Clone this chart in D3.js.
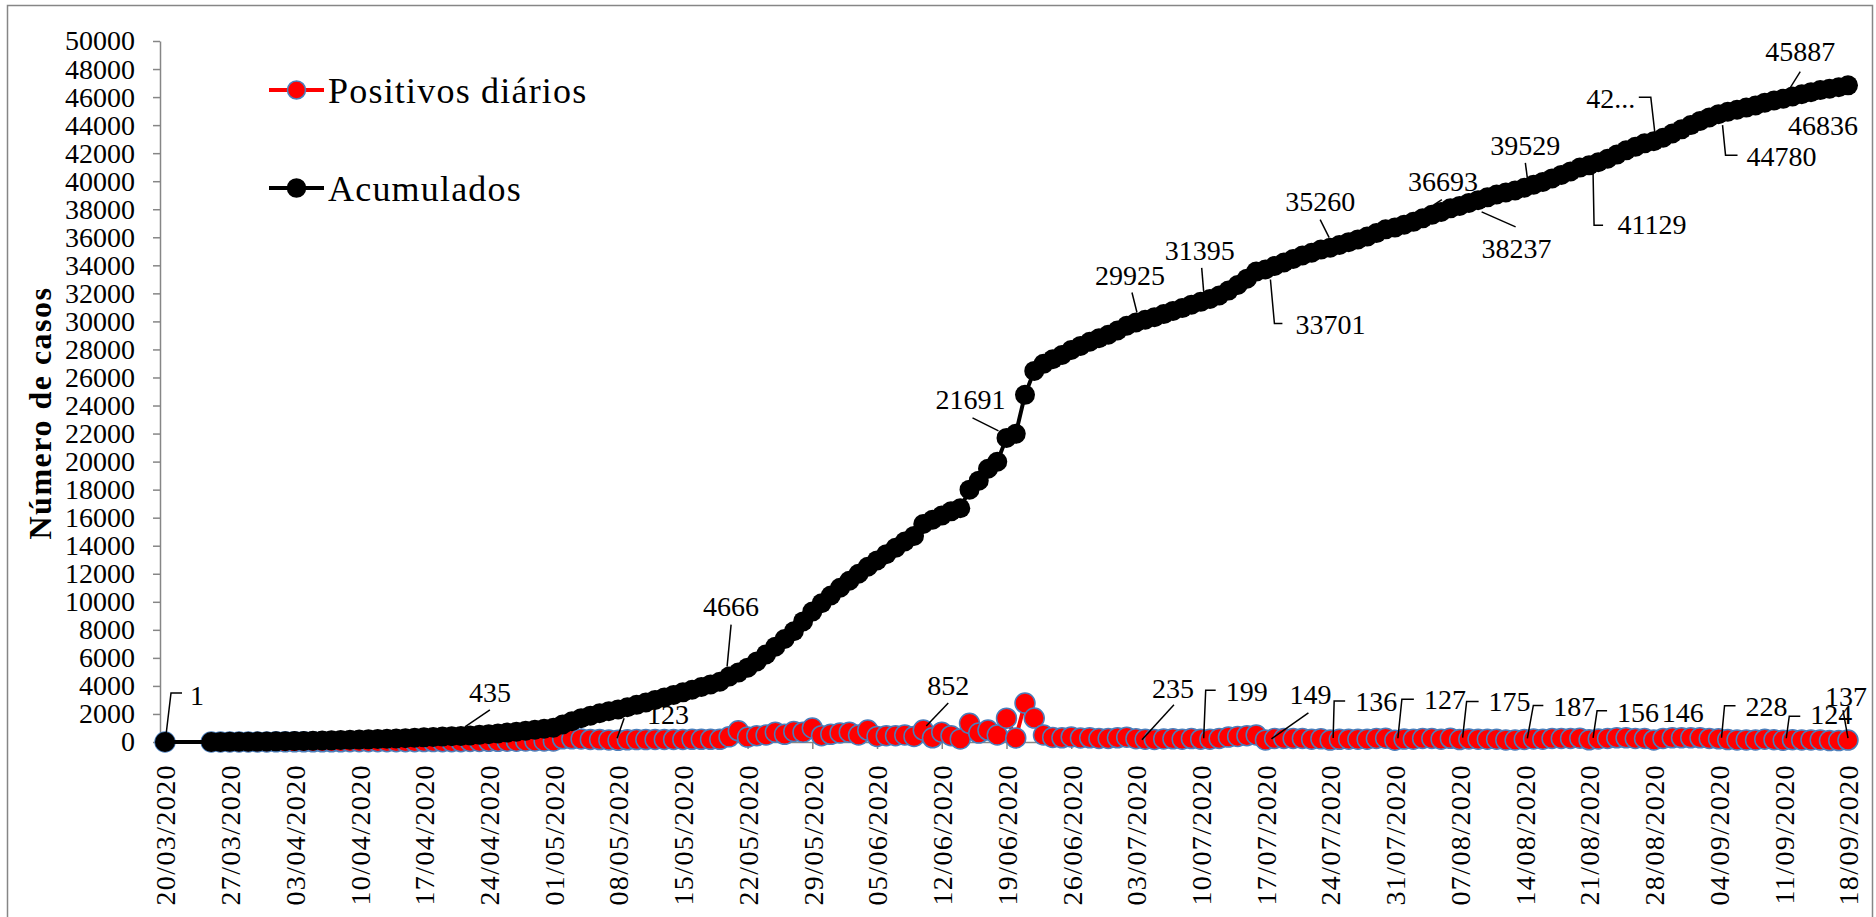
<!DOCTYPE html>
<html>
<head>
<meta charset="utf-8">
<script src="https://cdn.jsdelivr.net/npm/d3@7/dist/d3.min.js"></script>
<style>
  body { margin: 0; background: #fff; }
  text { font-family: "Liberation Serif", "Times New Roman", serif; fill: #000; }
</style>
</head>
<body>
<div id="chart"></div>
<script>
var svgWidth = 1876;
var svgHeight = 917;

// Data
var firstDate = "20/03/2020";
var seriesStart = "25/03/2020";
var lastDate = "18/09/2020";

var tickLabels = ["20/03/2020", "27/03/2020", "03/04/2020", "10/04/2020", "17/04/2020", "24/04/2020",
  "01/05/2020", "08/05/2020", "15/05/2020", "22/05/2020", "29/05/2020", "05/06/2020", "12/06/2020",
  "19/06/2020", "26/06/2020", "03/07/2020", "10/07/2020", "17/07/2020", "24/07/2020", "31/07/2020",
  "07/08/2020", "14/08/2020", "21/08/2020", "28/08/2020", "04/09/2020", "11/09/2020", "18/09/2020"];

var yTicks = [0, 2000, 4000, 6000, 8000, 10000, 12000, 14000, 16000, 18000, 20000, 22000, 24000, 26000,
  28000, 30000, 32000, 34000, 36000, 38000, 40000, 42000, 44000, 46000, 48000, 50000];

// one value for 20/03, then one per day from 25/03 to 18/09
var acumulados = [1,
  3, 6, 10,
  15, 21, 28, 36, 45, 55, 66,
  78, 91, 105, 120, 136, 153, 171,
  190, 210, 231, 253, 276, 300, 330,
  360, 385, 410, 435, 470, 510, 560,
  610, 670, 730, 800, 870, 945, 1020,
  1250, 1480, 1700, 1880, 2050, 2200, 2323,
  2480, 2650, 2820, 3000, 3180, 3360, 3540,
  3730, 3920, 4110, 4300, 4666, 4950, 5300,
  5750, 6250, 6800, 7350, 7900, 8600, 9300,
  9900, 10450, 11000, 11500, 12000, 12500, 12950,
  13400, 13850, 14300, 14700, 15552, 15850, 16150,
  16450, 16671, 18001, 18641, 19491, 19991, 21691,
  21981, 24761, 26471, 26971, 27300, 27600, 27960,
  28250, 28550, 28800, 29050, 29350, 29690, 29925,
  30120, 30300, 30520, 30750, 30950, 31196, 31395,
  31600, 31850, 32200, 32600, 33050, 33552, 33701,
  33950, 34200, 34450, 34700, 34900, 35124, 35260,
  35450, 35650, 35850, 36050, 36300, 36566, 36693,
  36900, 37100, 37350, 37600, 37800, 38062, 38237,
  38450, 38650, 38850, 39050, 39200, 39342, 39529,
  39750, 39950, 40200, 40450, 40700, 40973, 41129,
  41350, 41600, 41900, 42200, 42450, 42700, 42846,
  43100, 43400, 43700, 44000, 44300, 44552, 44780,
  44950, 45100, 45250, 45400, 45600, 45763, 45887,
  46050, 46200, 46350, 46500, 46600, 46699, 46836];

var positivos = [1,
  2, 3, 4,
  5, 6, 7, 8, 9, 10, 11,
  12, 13, 14, 15, 16, 17, 18,
  19, 20, 21, 22, 23, 24, 30,
  30, 25, 25, 25, 35, 40, 50,
  50, 60, 60, 70, 70, 75, 75,
  230, 230, 220, 180, 170, 150, 123,
  157, 170, 170, 180, 180, 180, 180,
  190, 190, 190, 190, 366, 800, 350,
  450, 500, 700, 550, 750, 700, 1000,
  450, 550, 650, 700, 500, 850, 400,
  450, 450, 500, 400, 852, 298, 700,
  450, 221, 1330, 640, 850, 500, 1700,
  290, 2780, 1710, 500, 329, 300, 360,
  290, 300, 250, 250, 300, 340, 235,
  195, 180, 220, 230, 200, 246, 199,
  205, 250, 350, 400, 450, 502, 149,
  249, 250, 250, 250, 200, 224, 136,
  190, 200, 200, 200, 250, 266, 127,
  207, 200, 250, 250, 200, 262, 175,
  213, 200, 200, 200, 150, 142, 187,
  221, 200, 250, 250, 250, 273, 156,
  221, 250, 300, 300, 250, 250, 146,
  254, 300, 300, 300, 300, 252, 228,
  170, 150, 150, 150, 200, 163, 124,
  163, 150, 150, 150, 100, 99, 137];

// data labels: which date, label offset from the point, leader line (relative to the point)
var acumLabels = [
  { date: "20/03/2020", text: "1", dx: 32, dy: -47, leader: [[1, -7], [6, -49], [17, -49]] },
  { date: "21/04/2020", text: "435", dx: 29, dy: -44, leader: [[4, -9], [29, -26]] },
  { date: "20/05/2020", text: "4666", dx: 2, dy: -70, leader: [[-2, -10], [2, -52]] },
  { date: "19/06/2020", text: "21691", dx: -36, dy: -39, leader: [[-34, -20], [-8, -7]] },
  { date: "03/07/2020", text: "29925", dx: -6, dy: -47, leader: [[-4, -30], [1, -10]] },
  { date: "10/07/2020", text: "31395", dx: -1, dy: -52, leader: [[1, -34], [3, -10]] },
  { date: "17/07/2020", text: "33701", dx: 65, dy: 55, leader: [[5, 10], [9, 54], [17, 54]] },
  { date: "24/07/2020", text: "35260", dx: -10, dy: -46, leader: [[-10, -28], [-1, -10]] },
  { date: "31/07/2020", text: "36693", dx: 48, dy: -46, leader: [[47, -28], [24, -13]] },
  { date: "07/08/2020", text: "38237", dx: 57, dy: 42, leader: [[22, 6], [56, 21]] },
  { date: "14/08/2020", text: "39529", dx: 1, dy: -43, leader: [[1, -25], [3, -10]] },
  { date: "21/08/2020", text: "41129", dx: 63, dy: 59, leader: [[4, 8], [5, 60], [14, 60]] },
  { date: "28/08/2020", text: "42...", dx: -43, dy: -43, leader: [[-15, -44], [-3, -44], [1, -9]] },
  { date: "04/09/2020", text: "44780", dx: 63, dy: 42, leader: [[4, 11], [7, 41], [19, 41]] },
  { date: "11/09/2020", text: "45887", dx: 17, dy: -47, leader: [[17, -27], [7, -11]] },
  { date: "18/09/2020", text: "46836", dx: -25, dy: 40, leader: [] }
];

var positLabels = [
  { date: "08/05/2020", text: "123", dx: 50, dy: -26, leader: [[6, -22], [-1, -2]] },
  { date: "10/06/2020", text: "852", dx: 25, dy: -45, leader: [[25, -27], [3, -4]] },
  { date: "03/07/2020", text: "235", dx: 37, dy: -51, leader: [[38, -34], [6, 1]] },
  { date: "10/07/2020", text: "199", dx: 46, dy: -48, leader: [[15, -49], [5, -49], [3, -1]] },
  { date: "17/07/2020", text: "149", dx: 45, dy: -46, leader: [[43, -27], [6, -1]] },
  { date: "24/07/2020", text: "136", dx: 46, dy: -39, leader: [[15, -39], [4, -39], [3, -2]] },
  { date: "31/07/2020", text: "127", dx: 50, dy: -41, leader: [[19, -41], [7, -41], [3, -2]] },
  { date: "07/08/2020", text: "175", dx: 50, dy: -38, leader: [[19, -38], [7, -38], [3, -2]] },
  { date: "14/08/2020", text: "187", dx: 50, dy: -33, leader: [[19, -34], [9, -34], [3, -1]] },
  { date: "21/08/2020", text: "156", dx: 49, dy: -28, leader: [[18, -29], [8, -29], [4, -2]] },
  { date: "28/08/2020", text: "146", dx: 29, dy: -28, leader: [] },
  { date: "04/09/2020", text: "228", dx: 48, dy: -33, leader: [[17, -33], [6, -33], [3, -1]] },
  { date: "11/09/2020", text: "124", dx: 48, dy: -26, leader: [[17, -24], [6, -24], [3, -2]] },
  { date: "18/09/2020", text: "137", dx: -2, dy: -44, leader: [[-5, -30], [0, -2]] }
];

var margin = { top: 41, right: 23, bottom: 175, left: 160 };
var height = svgHeight - margin.top - margin.bottom;   // 0 sits at y = 742

var parseDate = d3.timeParse("%d/%m/%Y");
var dates = [parseDate(firstDate)].concat(
  d3.timeDay.range(parseDate(seriesStart), d3.timeDay.offset(parseDate(lastDate), 1)));

var svg = d3.select("#chart")
  .append("svg")
  .attr("width", svgWidth)
  .attr("height", svgHeight);

svg.append("rect")
  .attr("width", svgWidth)
  .attr("height", svgHeight)
  .attr("fill", "#fff");

// chart border
svg.append("rect")
  .attr("x", 7.5)
  .attr("y", 5.5)
  .attr("width", 1865)
  .attr("height", 940)
  .attr("fill", "none")
  .attr("stroke", "#868686")
  .attr("stroke-width", 1.5);

// Scales (half a day of padding on both ends)
var x = d3.scaleTime()
  .domain([d3.timeHour.offset(parseDate(firstDate), -13), d3.timeHour.offset(parseDate(lastDate), 13)])
  .range([margin.left, svgWidth - margin.right]);

var y = d3.scaleLinear()
  .domain([0, 50000])
  .range([margin.top + height, margin.top]);

// Axes
var leftAxis = d3.axisLeft(y)
  .tickValues(yTicks)
  .tickFormat(d3.format("d"))
  .tickSize(7).tickSizeOuter(0).tickPadding(18);
var bottomAxis = d3.axisBottom(x)
  .tickValues(tickLabels.map(parseDate))
  .tickFormat(function(d, i) { return tickLabels[i]; })
  .tickSize(7).tickSizeOuter(0);

var yAxisG = svg.append("g")
  .attr("transform", `translate(${margin.left}, 0)`)
  .call(leftAxis);
yAxisG.selectAll("text")
  .style("font-family", "Liberation Serif")
  .style("font-size", "28px");

var xAxisG = svg.append("g")
  .attr("transform", `translate(0, ${y(0)})`)
  .call(bottomAxis);
xAxisG.selectAll("text")
  .attr("transform", "rotate(-90)")
  .attr("text-anchor", "end")
  .attr("x", -22)
  .attr("y", 0)
  .attr("dy", "0.35em")
  .style("font-family", "Liberation Serif")
  .style("font-size", "28px")
  .style("letter-spacing", "1.4px");

svg.selectAll(".domain, .tick line")
  .attr("stroke", "#868686")
  .attr("stroke-width", 1.5);

// axis title
svg.append("text")
  .attr("transform", "translate(40, 413) rotate(-90)")
  .attr("text-anchor", "middle")
  .attr("dy", "0.35em")
  .style("font-size", "32px")
  .style("font-weight", "bold")
  .style("letter-spacing", "1.5px")
  .text("Número de casos");

var line = d3.line()
  .x(function(d, i) { return x(dates[i]); })
  .y(function(d) { return y(d); });

// Positivos diários
svg.append("path")
  .datum(positivos)
  .attr("d", line)
  .attr("fill", "none")
  .attr("stroke", "#ff0000")
  .attr("stroke-width", 4);

svg.append("g").selectAll("circle")
  .data(positivos)
  .enter()
  .append("circle")
  .attr("cx", function(d, i) { return x(dates[i]); })
  .attr("cy", function(d) { return y(d); })
  .attr("r", 10)
  .attr("fill", "#ff0000")
  .attr("stroke", "#4a7ebb")
  .attr("stroke-width", 1.5);

// Acumulados
svg.append("path")
  .datum(acumulados)
  .attr("d", line)
  .attr("fill", "none")
  .attr("stroke", "#000")
  .attr("stroke-width", 4);

svg.append("g").selectAll("circle")
  .data(acumulados)
  .enter()
  .append("circle")
  .attr("cx", function(d, i) { return x(dates[i]); })
  .attr("cy", function(d) { return y(d); })
  .attr("r", 10)
  .attr("fill", "#000");

// data labels
function drawLabels(labels, values) {
  labels.forEach(function(lb) {
    var dt = parseDate(lb.date);
    var idx = dates.findIndex(function(d) { return +d === +dt; });
    var px = x(dt), py = y(values[idx]);
    if (lb.leader.length) {
      svg.append("polyline")
        .attr("points", lb.leader.map(function(p) { return (px + p[0]) + "," + (py + p[1]); }).join(" "))
        .attr("fill", "none")
        .attr("stroke", "#000")
        .attr("stroke-width", 1.5);
    }
    svg.append("text")
      .attr("x", px + lb.dx)
      .attr("y", py + lb.dy)
      .attr("text-anchor", "middle")
      .attr("dy", "0.35em")
      .style("font-size", "28px")
      .text(lb.text);
  });
}
drawLabels(positLabels, positivos);
drawLabels(acumLabels, acumulados);

// Legend
var legend = [
  { name: "Positivos diários", color: "#ff0000", stroke: "#4a7ebb", y: 90 },
  { name: "Acumulados", color: "#000", stroke: "#000", y: 188 }
];
var lg = svg.append("g").selectAll("g").data(legend).enter().append("g")
  .attr("transform", function(d) { return `translate(269, ${d.y})`; });
lg.append("line")
  .attr("x1", 0).attr("x2", 55)
  .attr("stroke", function(d) { return d.color; })
  .attr("stroke-width", 4);
lg.append("circle")
  .attr("cx", 27.5)
  .attr("r", 9)
  .attr("fill", function(d) { return d.color; })
  .attr("stroke", function(d) { return d.stroke; })
  .attr("stroke-width", 1.5);
lg.append("text")
  .attr("x", 59)
  .attr("dy", "0.35em")
  .style("font-size", "36px")
  .style("letter-spacing", "1.2px")
  .text(function(d) { return d.name; });
</script>
</body>
</html>
